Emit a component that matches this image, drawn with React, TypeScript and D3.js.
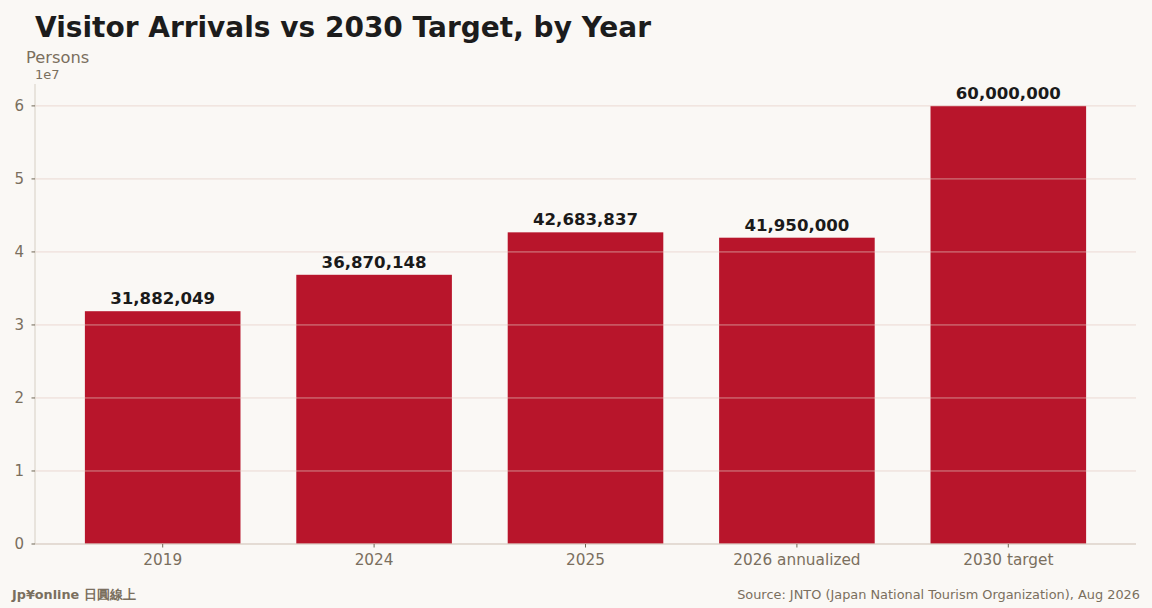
import React from 'react';
import * as d3 from 'd3';

const categories = ['2019', '2024', '2025', '2026 annualized', '2030 target'];
const arrivals = [31882049, 36870148, 42683837, 41950000, 60000000];
const yTicks = [0, 1, 2, 3, 4, 5, 6];

const W = 1152;
const H = 608;
const margin = { left: 35, right: 16, top: 84, bottom: 64 };
const BAR_COLOR = '#b8152b';
const MUTED = '#7a6f5e';
const FONT = 'DejaVu Sans, sans-serif';

export default function App() {
  const x = d3
    .scaleLinear()
    .domain([-0.604, categories.length - 1 + 0.604])
    .range([margin.left, W - margin.right]);
  const y = d3
    .scaleLinear()
    .domain([0, 63e6])
    .range([H - margin.bottom, margin.top]);
  const barW = x(0.736) - x(0);
  const fmt = d3.format(',');

  return (
    <svg
      width={W}
      height={H}
      viewBox={`0 0 ${W} ${H}`}
      style={{ position: 'absolute', left: 0, top: 0, background: '#faf8f5', fontFamily: FONT }}
    >
      <rect width={W} height={H} fill="#faf8f5" />
      <text x={35} y={37} fontSize={28} fontWeight="bold" fill="#1c1c1c">
        Visitor Arrivals vs 2030 Target, by Year
      </text>
      <text x={26} y={63} fontSize={16.3} fill={MUTED}>
        Persons
      </text>
      <text x={35} y={79} fontSize={13} fill={MUTED}>
        1e7
      </text>

      {/* bars */}
      {arrivals.map((v, i) => (
        <rect
          key={categories[i]}
          x={x(i) - barW / 2}
          y={y(v)}
          width={barW}
          height={y(0) - y(v)}
          fill={BAR_COLOR}
        />
      ))}

      {/* grid on top */}
      {yTicks.map((t) => (
        <line
          key={t}
          x1={margin.left}
          x2={W - margin.right}
          y1={y(t * 1e7)}
          y2={y(t * 1e7)}
          stroke="#e3c9c1"
          strokeOpacity={0.65}
          strokeWidth={1}
        />
      ))}

      {/* value labels */}
      {arrivals.map((v, i) => (
        <text
          key={`l${i}`}
          x={x(i)}
          y={y(v) - 7}
          textAnchor="middle"
          fontSize={16.6}
          fontWeight="bold"
          fill="#1a1a1a"
        >
          {fmt(v)}
        </text>
      ))}

      {/* spines */}
      <line x1={margin.left} x2={margin.left} y1={margin.top} y2={y(0)} stroke="#d6cfc4" />
      <line x1={margin.left} x2={W - margin.right} y1={y(0)} y2={y(0)} stroke="#d6cfc4" />

      {/* y ticks */}
      {yTicks.map((t) => (
        <g key={`yt${t}`} transform={`translate(${margin.left},${y(t * 1e7)})`}>
          <line x1={-3.5} x2={0} stroke="#6f6654" />
          <text x={-11} dy="0.35em" textAnchor="end" fontSize={15} fill={MUTED}>
            {t}
          </text>
        </g>
      ))}

      {/* x ticks */}
      {categories.map((c, i) => (
        <g key={`xt${c}`} transform={`translate(${x(i)},${y(0)})`}>
          <line y1={0} y2={3.5} stroke="#6f6654" />
          <text y={21} textAnchor="middle" fontSize={15.3} fill={MUTED}>
            {c}
          </text>
        </g>
      ))}

      <text x={12} y={599} fontSize={12.8} fontWeight="bold" fill={MUTED}>
        Jp¥online 日圓線上
      </text>
      <text x={1140} y={599} textAnchor="end" fontSize={12.9} fill={MUTED}>
        Source: JNTO (Japan National Tourism Organization), Aug 2026
      </text>
    </svg>
  );
}
